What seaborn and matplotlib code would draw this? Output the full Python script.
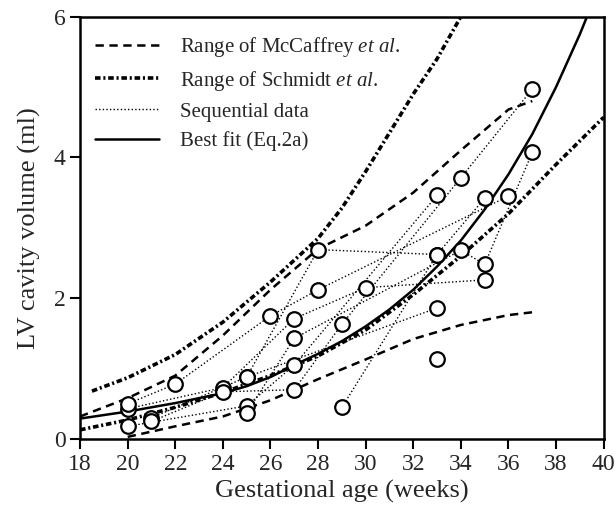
import matplotlib
matplotlib.use("Agg")
import matplotlib.pyplot as plt
import seaborn as sns
import pandas as pd

# ---- data ----
fit_age = [18, 19, 20, 21, 22, 23, 24, 25, 26, 27, 28, 29, 30, 31, 32, 33, 34, 35, 36, 37, 38, 39, 39.3]
fit_vol = [0.29, 0.34, 0.39, 0.45, 0.51, 0.58, 0.65, 0.75, 0.88, 1.05, 1.21, 1.39, 1.60, 1.84, 2.12, 2.45, 2.82, 3.26, 3.76, 4.33, 5.0, 5.75, 6.0]

mcc_up_age = [18, 20, 22, 24, 26, 28, 30, 32, 34, 36, 37]
mcc_up_vol = [0.32, 0.58, 0.90, 1.47, 2.12, 2.70, 3.03, 3.50, 4.10, 4.68, 4.80]
mcc_lo_age = [20, 22, 24, 26, 28, 30, 32, 34, 36, 37]
mcc_lo_vol = [0.03, 0.18, 0.32, 0.55, 0.85, 1.13, 1.42, 1.62, 1.76, 1.80]

sch_up_age = [18.5, 20, 22, 24, 26, 28, 29, 30, 31, 32, 33, 34]
sch_up_vol = [0.68, 0.87, 1.20, 1.66, 2.23, 2.85, 3.28, 3.80, 4.35, 4.90, 5.40, 6.0]
sch_lo_age = [18, 20, 22, 24, 26, 28, 30, 32, 34, 36, 38, 40]
sch_lo_vol = [0.13, 0.27, 0.45, 0.66, 0.90, 1.18, 1.55, 2.05, 2.60, 3.20, 3.90, 4.57]

# sequential measurements (subject id, age, volume)
seq_subject = [1, 1, 1, 1, 1,
               2, 2, 2, 2, 2,
               3, 3, 3, 3,
               4, 4, 4,
               5, 5, 5, 5,
               6, 6, 6, 6, 6, 6,
               7, 7, 7, 7, 7,
               8, 8,
               9]
seq_age = [20, 24, 27, 30, 35,
           20, 22, 26, 28, 36,
           21, 25, 28, 33,
           29, 33, 35,
           20, 25, 27, 33,
           21, 24, 27, 29, 34, 37,
           25, 27, 34, 35, 37,
           25, 33,
           33]
seq_vol = [0.43, 0.73, 1.71, 2.15, 2.26,
           0.50, 0.78, 1.75, 2.12, 3.45,
           0.30, 0.88, 2.69, 2.62,
           0.45, 2.62, 3.42,
           0.18, 0.47, 1.05, 3.46,
           0.25, 0.67, 0.70, 1.63, 3.71, 4.97,
           0.37, 1.43, 2.68, 2.48, 4.07,
           0.88, 1.86,
           1.14]

x_ticks = list(range(18, 41, 2))
y_ticks = [0, 2, 4, 6]

# ---- style ----
sns.set_theme(style="ticks")
plt.rcParams["font.family"] = ["Liberation Serif", "DejaVu Serif"]
plt.rcParams["mathtext.fontset"] = "custom"
plt.rcParams["mathtext.rm"] = "Liberation Serif"
plt.rcParams["mathtext.it"] = "Liberation Serif:italic"
plt.rcParams["lines.scale_dashes"] = False

fig = plt.figure(figsize=(6.16, 5.12), dpi=100)
ax = fig.add_axes([0.13, 0.1426, 0.85, 0.825])

seq = pd.DataFrame({"subject": seq_subject, "age": seq_age, "vol": seq_vol})

dash_mcc = (6, 4)
dash_sch = (4, 2, 1.5, 2)

sns.lineplot(x=mcc_up_age, y=mcc_up_vol, ax=ax, color="black", lw=1.8,
             label="Range of McCaffrey $\\it{et\\ al.}$").lines[-1].set_dashes(dash_mcc)
sns.lineplot(x=mcc_lo_age, y=mcc_lo_vol, ax=ax, color="black", lw=1.8).lines[-1].set_dashes(dash_mcc)
sns.lineplot(x=sch_up_age, y=sch_up_vol, ax=ax, color="black", lw=2.6,
             label="Range of Schmidt $\\it{et\\ al.}$").lines[-1].set_dashes(dash_sch)
sns.lineplot(x=sch_lo_age, y=sch_lo_vol, ax=ax, color="black", lw=2.6).lines[-1].set_dashes(dash_sch)

first = True
for sid, g in seq.groupby("subject"):
    if len(g) > 1:
        sns.lineplot(data=g, x="age", y="vol", ax=ax, color="black", lw=1.0,
                     linestyle=(0, (1, 1.6)), sort=False,
                     label="Sequential data" if first else None)
        first = False

sns.lineplot(x=fit_age, y=fit_vol, ax=ax, color="black", lw=1.8, label="Best fit (Eq.2a)")

sns.scatterplot(data=seq, x="age", y="vol", ax=ax, marker="o", s=110,
                facecolor="white", edgecolor="black", linewidth=1.6, zorder=5, legend=False)

ax.set_xlim(18, 40)
ax.set_ylim(0, 6)
ax.set_xticks(x_ticks)
ax.set_yticks(y_ticks)
ax.tick_params(axis="both", direction="out", length=7, width=1.5, labelsize=17, color="black")
for s in ax.spines.values():
    s.set_linewidth(1.8)
    s.set_color("black")
ax.set_xlabel("Gestational age (weeks)", fontsize=19, labelpad=4)
ax.set_ylabel("LV cavity volume (ml)", fontsize=19, labelpad=9)

h, l = ax.get_legend_handles_labels()
leg = ax.legend(h, l, loc="upper left", frameon=False, fontsize=15,
                handlelength=3.1, handletextpad=1.0, labelspacing=0.45,
                borderaxespad=0.3, bbox_to_anchor=(0.0, 0.99))

fig.savefig("out.png", dpi=100)
